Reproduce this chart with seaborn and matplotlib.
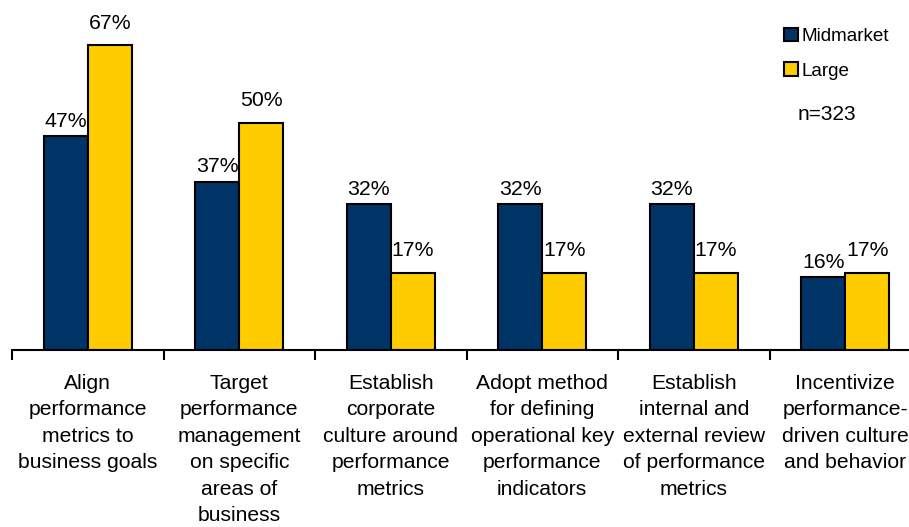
import matplotlib
matplotlib.use("Agg")
import matplotlib.pyplot as plt
from matplotlib.patches import Patch
from matplotlib.ticker import FixedLocator
import seaborn as sns
import pandas as pd

categories = [
    "Align\nperformance\nmetrics to\nbusiness goals",
    "Target\nperformance\nmanagement\non specific\nareas of\nbusiness",
    "Establish\ncorporate\nculture around\nperformance\nmetrics",
    "Adopt method\nfor defining\noperational key\nperformance\nindicators",
    "Establish\ninternal and\nexternal review\nof performance\nmetrics",
    "Incentivize\nperformance-\ndriven culture\nand behavior",
]
midmarket = [47, 37, 32, 32, 32, 16]
large = [67, 50, 17, 17, 17, 17]
series = ["Midmarket", "Large"]
colors = ["#003366", "#FFCC00"]

df = pd.DataFrame({
    "category": categories * 2,
    "segment": [series[0]] * len(categories) + [series[1]] * len(categories),
    "value": midmarket + large,
})

sns.set_style("white")
plt.rcParams["font.family"] = ["Liberation Sans", "DejaVu Sans"]
plt.rcParams["text.color"] = "black"
plt.rcParams["xtick.color"] = "black"
plt.rcParams["xtick.labelcolor"] = "black"

fig = plt.figure(figsize=(9.09, 5.27), dpi=100)
ax = fig.add_axes([12 / 909, 177 / 527, 1.0, 318.5 / 527])

sns.barplot(
    data=df, x="category", y="value", hue="segment",
    palette=colors, saturation=1, width=0.58, gap=0,
    edgecolor="black", linewidth=1.5, legend=False, ax=ax,
)

ax.set_ylim(0, 70)
ax.set_xlim(-0.5, len(categories) - 0.5)

# value labels: Midmarket sits close to its bar, Large a little higher
for container, pad in zip(ax.containers, [4, 9]):
    ax.bar_label(container, fmt="%.0f%%", padding=pad, fontsize=15.3, color="black")

for s in ["top", "left", "right"]:
    ax.spines[s].set_visible(False)
ax.spines["bottom"].set_linewidth(1.5)
ax.spines["bottom"].set_color("black")
ax.set_yticks([])
ax.set_xlabel("")
ax.set_ylabel("")

ax.tick_params(axis="x", which="major", length=0, pad=17, labelsize=15.2, labelcolor="black")
ax.xaxis.set_minor_locator(FixedLocator([i - 0.5 for i in range(len(categories) + 1)]))
ax.tick_params(axis="x", which="minor", length=7, width=1.5, color="black", direction="out", bottom=True)
for lbl in ax.get_xticklabels():
    lbl.set_linespacing(1.5)
    lbl.set_multialignment("center")

handles = [Patch(facecolor=c, edgecolor="black", linewidth=1.5, label=s) for c, s in zip(colors, series)]
fig.legend(
    handles=handles, loc="upper left", bbox_to_anchor=(776 / 909, 1 - 20 / 527),
    frameon=False, fontsize=13.6, handlelength=0.75, handleheight=0.75,
    handletextpad=0.2, labelspacing=0.9, borderaxespad=0, labelcolor="black",
)
fig.text(827 / 909, 1 - 114 / 527, "n=323", ha="center", va="center", fontsize=15, color="black")

fig.savefig("out.png", dpi=100)
